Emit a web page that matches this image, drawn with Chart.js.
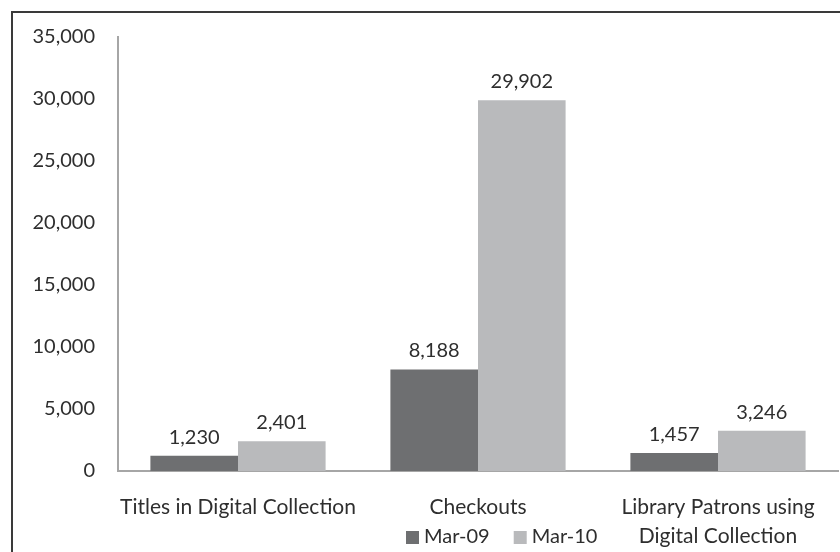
<!DOCTYPE html>
<html>
<head>
<meta charset="utf-8">
<script src="https://cdn.jsdelivr.net/npm/chart.js@4/dist/chart.umd.min.js"></script>
<style>
  html, body { margin: 0; padding: 0; background: #fff; }
  #wrap { position: relative; width: 840px; height: 552px; }
  #frame { position: absolute; left: 11px; top: 11px; right: 0; bottom: 0;
           border-left: 2px solid #3a3a3a; border-top: 2px solid #3a3a3a; pointer-events: none; }
</style>
</head>
<body>
<div id="wrap">
  <canvas id="chart" width="840" height="552"></canvas>
  <div id="frame"></div>
</div>
<script>
// === Data ===
const categories = [
    'Titles in Digital Collection',
    'Checkouts',
    ['Library Patrons using', 'Digital Collection']
];
const seriesNames = ['Mar-09', 'Mar-10'];
const mar09 = [1230, 8188, 1457];
const mar10 = [2401, 29902, 3246];
const yTicks = [0, 5000, 10000, 15000, 20000, 25000, 30000, 35000];

// === Style ===
const FONT = 'Lato, "Open Sans", sans-serif';
const TEXT = '#2e2e2e';
const COLORS = ['#6e6f71', '#b9babc'];

const fmt = v => v.toLocaleString('en-US');

// value labels above bars
const valueLabels = {
    id: 'valueLabels',
    afterDatasetsDraw(chart) {
        const ctx = chart.ctx;
        ctx.save();
        ctx.font = '20px ' + FONT;
        ctx.fillStyle = TEXT;
        ctx.textAlign = 'center';
        ctx.textBaseline = 'alphabetic';
        chart.data.datasets.forEach((ds, i) => {
            chart.getDatasetMeta(i).data.forEach((bar, j) => {
                ctx.fillText(fmt(ds.data[j]), bar.x, bar.y - 12);
            });
        });
        ctx.restore();
    }
};

// legend sitting under the middle category label (like the original)
const bottomLegend = {
    id: 'bottomLegend',
    afterDraw(chart) {
        const ctx = chart.ctx;
        const xs = chart.scales.x;
        ctx.save();
        ctx.font = '20px ' + FONT;
        ctx.textBaseline = 'middle';
        ctx.textAlign = 'left';
        const y = 537;
        let x = xs.getPixelForValue(1) - 72;
        chart.data.datasets.forEach((ds, i) => {
            ctx.fillStyle = ds.backgroundColor;
            ctx.fillRect(x, y - 6, 13, 13);
            x += 18;
            ctx.fillStyle = TEXT;
            ctx.fillText(ds.label, x, y);
            x += ctx.measureText(ds.label).width + 24;
        });
        ctx.restore();
    }
};

new Chart(document.getElementById('chart'), {
    type: 'bar',
    data: {
        labels: categories,
        datasets: [
            { label: seriesNames[0], data: mar09, backgroundColor: COLORS[0] },
            { label: seriesNames[1], data: mar10, backgroundColor: COLORS[1] }
        ]
    },
    options: {
        responsive: false,
        animation: false,
        layout: { padding: { top: 37, right: 2, left: 0, bottom: 0 } },
        plugins: {
            legend: { display: false },
            tooltip: { enabled: false }
        },
        datasets: {
            bar: { categoryPercentage: 0.73, barPercentage: 1.0 }
        },
        scales: {
            x: {
                grid: { display: false, drawTicks: false },
                border: { display: true, color: '#a6a6a6', width: 2 },
                ticks: {
                    color: TEXT,
                    font: { family: FONT, size: 21, lineHeight: 1.38 },
                    padding: 22,
                    maxRotation: 0,
                    autoSkip: false
                },
                afterFit(scale) { scale.height = 81; }
            },
            y: {
                min: 0,
                max: 35000,
                afterBuildTicks(scale) { scale.ticks = yTicks.map(v => ({ value: v })); },
                grid: { display: false, drawTicks: false },
                border: { display: true, color: '#a6a6a6', width: 2 },
                ticks: {
                    color: TEXT,
                    font: { family: FONT, size: 20 },
                    padding: 23,
                    callback: v => fmt(v)
                },
                afterFit(scale) { scale.width = 118; }
            }
        }
    },
    plugins: [valueLabels, bottomLegend]
});
</script>
</body>
</html>
